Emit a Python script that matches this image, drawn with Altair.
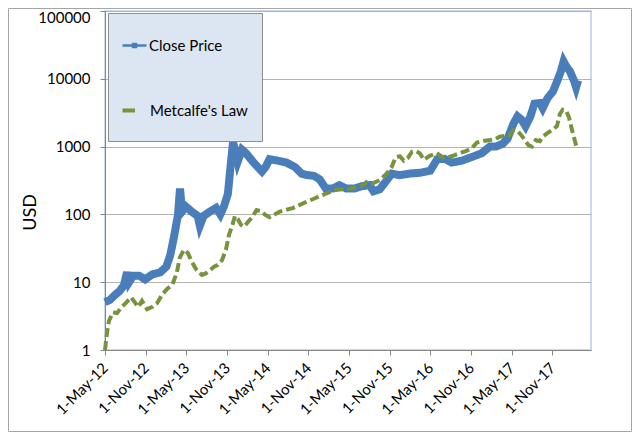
import altair as alt
import pandas as pd

# ---- data ----
close_dates = [
    "2012-05-01", "2012-05-23", "2012-06-15", "2012-07-07", "2012-07-25", "2012-08-08",
    "2012-08-17", "2012-09-05", "2012-10-01", "2012-10-28", "2012-11-29", "2013-01-04",
    "2013-02-01", "2013-02-18", "2013-03-06", "2013-03-25", "2013-04-03", "2013-04-12",
    "2013-04-30", "2013-05-25", "2013-06-21", "2013-07-01", "2013-07-18", "2013-08-15",
    "2013-09-12", "2013-10-01", "2013-10-17", "2013-11-04", "2013-11-18", "2013-11-27",
    "2013-12-10", "2013-12-18", "2014-01-06", "2014-01-24", "2014-02-24", "2014-03-18",
    "2014-04-06", "2014-04-22", "2014-05-10", "2014-06-16", "2014-07-25", "2014-09-01",
    "2014-10-01", "2014-10-24", "2014-11-25", "2014-12-21", "2015-01-18", "2015-02-18",
    "2015-03-20", "2015-04-20", "2015-05-27", "2015-06-28", "2015-08-02", "2015-08-20",
    "2015-09-17", "2015-10-09", "2015-11-10", "2015-12-15", "2016-02-01", "2016-03-15",
    "2016-05-01", "2016-06-01", "2016-07-04", "2016-08-05", "2016-09-20", "2016-11-03",
    "2016-12-18", "2017-01-24", "2017-02-20", "2017-03-22", "2017-04-13", "2017-05-10",
    "2017-05-28", "2017-06-15", "2017-07-03", "2017-07-25", "2017-08-12", "2017-09-06",
    "2017-09-18", "2017-10-10", "2017-11-03", "2017-11-21", "2017-12-09", "2017-12-21",
    "2018-01-03", "2018-01-18", "2018-02-05", "2018-02-15", "2018-02-24",
]
close_values = [
    5.1, 5.5, 6.5, 7.5, 9, 14,
    10, 12.5, 12.5, 11, 13, 14,
    17, 25, 45, 100, 240, 110,
    130, 110, 95, 68, 95, 110,
    125, 100, 130, 200, 600, 1150,
    800, 600, 900, 800, 600, 500,
    430, 500, 650, 620, 580, 500,
    400, 380, 370, 330, 240, 240,
    270, 240, 240, 260, 270, 220,
    235, 290, 400, 380, 400, 410,
    440, 650, 660, 580, 620, 700,
    800, 1000, 1000, 1100, 1300, 2200,
    2800, 2500, 2000, 2800, 4300, 4400,
    3700, 5200, 6500, 9000, 13000, 18000,
    15000, 13000, 9500, 7500, 9500,
]

metcalfe_dates = [
    "2012-05-01", "2012-05-10", "2012-05-19", "2012-06-06", "2012-06-24", "2012-07-12",
    "2012-08-04", "2012-08-26", "2012-09-13", "2012-09-27", "2012-10-14", "2012-11-06",
    "2012-11-28", "2012-12-21", "2013-01-13", "2013-02-05", "2013-02-27", "2013-03-19",
    "2013-04-02", "2013-04-20", "2013-05-08", "2013-05-26", "2013-06-17", "2013-07-10",
    "2013-07-28", "2013-08-16", "2013-09-03", "2013-09-20", "2013-10-08", "2013-10-26",
    "2013-11-09", "2013-11-22", "2013-12-06", "2013-12-19", "2014-01-02", "2014-01-16",
    "2014-02-03", "2014-02-20", "2014-03-13", "2014-04-01", "2014-04-18", "2014-05-10",
    "2014-06-02", "2014-06-25", "2014-07-25", "2014-08-22", "2014-09-23", "2014-10-24",
    "2014-11-25", "2014-12-22", "2015-01-23", "2015-02-19", "2015-03-20", "2015-04-21",
    "2015-05-18", "2015-06-18", "2015-07-20", "2015-08-16", "2015-09-17", "2015-10-18",
    "2015-11-10", "2015-11-28", "2015-12-16", "2016-01-03", "2016-01-21", "2016-02-09",
    "2016-02-27", "2016-03-15", "2016-04-02", "2016-04-28", "2016-05-30", "2016-06-26",
    "2016-07-19", "2016-08-19", "2016-09-20", "2016-10-08", "2016-11-04", "2016-11-27",
    "2016-12-19", "2017-01-25", "2017-02-20", "2017-03-09", "2017-04-05", "2017-04-23",
    "2017-05-10", "2017-05-28", "2017-06-12", "2017-06-30", "2017-07-16", "2017-07-31",
    "2017-08-18", "2017-09-05", "2017-09-18", "2017-10-11", "2017-11-03", "2017-11-21",
    "2017-12-04", "2017-12-17", "2018-01-01", "2018-01-14", "2018-01-27", "2018-02-10",
    "2018-02-19",
]
metcalfe_values = [
    1.0, 1.8, 2.7, 3.6, 3.5, 4.2,
    5.0, 6.0, 5.0, 4.3, 5.3, 4.0,
    4.3, 4.9, 6.6, 8.0, 9.1, 13.6,
    23, 30, 27, 20, 15, 12.8,
    13.5, 15, 17, 18, 21, 30,
    50, 66, 95, 85, 70, 66,
    78, 90, 116, 112, 100, 91,
    100, 110, 117, 124, 138, 154,
    170, 186, 205, 225, 233, 236,
    245, 250, 300, 287, 320, 400,
    505, 700, 720, 620, 680, 840,
    860, 800, 640, 730, 800, 700,
    690, 750, 820, 860, 950, 1150,
    1200, 1250, 1300, 1400, 1450, 1480,
    1750, 1700, 1500, 1250, 1050, 1000,
    1250, 1200, 1400, 1600, 1800, 2000,
    3000, 3500, 3400, 2700, 1800, 1200,
    940,
]

series_names = ["Close Price", "Metcalfe's Law"]
series_colors = ["#4A7EBB", "#77933C"]
y_ticks = [1, 10, 100, 1000, 10000, 100000]
x_tick_dates = [(2012, 5), (2012, 11), (2013, 5), (2013, 11), (2014, 5), (2014, 11),
                (2015, 5), (2015, 11), (2016, 5), (2016, 11), (2017, 5), (2017, 11)]

FONT = "Lato"

close_df = pd.DataFrame({"date": pd.to_datetime(close_dates), "value": close_values})
met_df = pd.DataFrame({"date": pd.to_datetime(metcalfe_dates), "value": metcalfe_values})

x_enc = alt.X(
    "date:T",
    scale=alt.Scale(domain=[alt.DateTime(year=2012, month=5, date=1),
                            alt.DateTime(year=2018, month=4, date=23)]),
    axis=alt.Axis(
        values=[alt.DateTime(year=y, month=m, date=1) for y, m in x_tick_dates],
        format="%-d-%b-%y", labelAngle=-45, labelAlign="right", labelBaseline="middle",
        labelFont=FONT, labelFontSize=15, labelColor="#000000", labelPadding=10,
        tickSize=5, tickColor="#868686", domainColor="#868686", grid=False,
        title=None, labelOverlap=False,
    ),
)
y_enc = alt.Y(
    "value:Q",
    scale=alt.Scale(type="log", domain=[1, 100000]),
    axis=alt.Axis(
        values=y_ticks, format="d", labelFont=FONT, labelFontSize=15,
        labelColor="#000000", labelPadding=10, tickSize=5, tickColor="#868686",
        labelOffset={"condition": {"test": "datum.value == 100000", "value": 6}, "value": 0},
        domainColor="#868686", gridColor="#B3B3B3", gridWidth=1,
        title="USD", titleFont=FONT, titleFontSize=18, titleFontWeight="normal",
        titleColor="#000000", titleAngle=-90, titleX=-75, titleY=201,
        titleAlign="center", titleBaseline="middle",
    ),
)

close_line = alt.Chart(close_df).mark_line(
    color=series_colors[0], strokeWidth=8, strokeJoin="miter"
).encode(x=x_enc, y=y_enc)

met_line = alt.Chart(met_df).mark_line(
    color=series_colors[1], strokeWidth=4, strokeDash=[9, 4]
).encode(x=x_enc, y=y_enc)

one = pd.DataFrame({"k": [0]})
frame = alt.Chart(one).mark_rect(
    fill=None, stroke="#A6A6A6", strokeWidth=1, clip=False
).encode(x=alt.value(-96.5), x2=alt.value(526.5), y=alt.value(-2.5), y2=alt.value(420.5))
leg_box = alt.Chart(one).mark_rect(
    fill="#DCE6F2", stroke="#8E8E8E", strokeWidth=1
).encode(x=alt.value(3.5), x2=alt.value(157.5), y=alt.value(2.5), y2=alt.value(130.5))
leg_l1 = alt.Chart(one).mark_rule(color=series_colors[0], strokeWidth=2.5).encode(
    x=alt.value(17.5), x2=alt.value(41.5), y=alt.value(34.5))
leg_m1 = alt.Chart(one).mark_square(color=series_colors[0], size=30, opacity=1).encode(
    x=alt.value(29.5), y=alt.value(34.5))
leg_t1 = alt.Chart(one).mark_text(
    text=series_names[0], font=FONT, fontSize=15, color="#000000", align="left", baseline="middle"
).encode(x=alt.value(44), y=alt.value(35))
leg_l2 = alt.Chart(one).mark_rule(color=series_colors[1], strokeWidth=4).encode(
    x=alt.value(17.5), x2=alt.value(30), y=alt.value(99.5))
leg_t2 = alt.Chart(one).mark_text(
    text=series_names[1], font=FONT, fontSize=15, color="#000000", align="left", baseline="middle"
).encode(x=alt.value(45), y=alt.value(100))

chart = alt.layer(
    frame, close_line, met_line, leg_box, leg_l1, leg_m1, leg_t1, leg_l2, leg_t2
).properties(
    width=486, height=339,
    autosize=alt.AutoSizeParams(type="none"),
    padding={"left": 97, "top": 3, "right": 41, "bottom": 82},
    background="#FFFFFF",
).configure_view(stroke="#B9CDE5", strokeWidth=1.5)

chart.save("out.html", embed_options={"renderer": "svg", "actions": False})
